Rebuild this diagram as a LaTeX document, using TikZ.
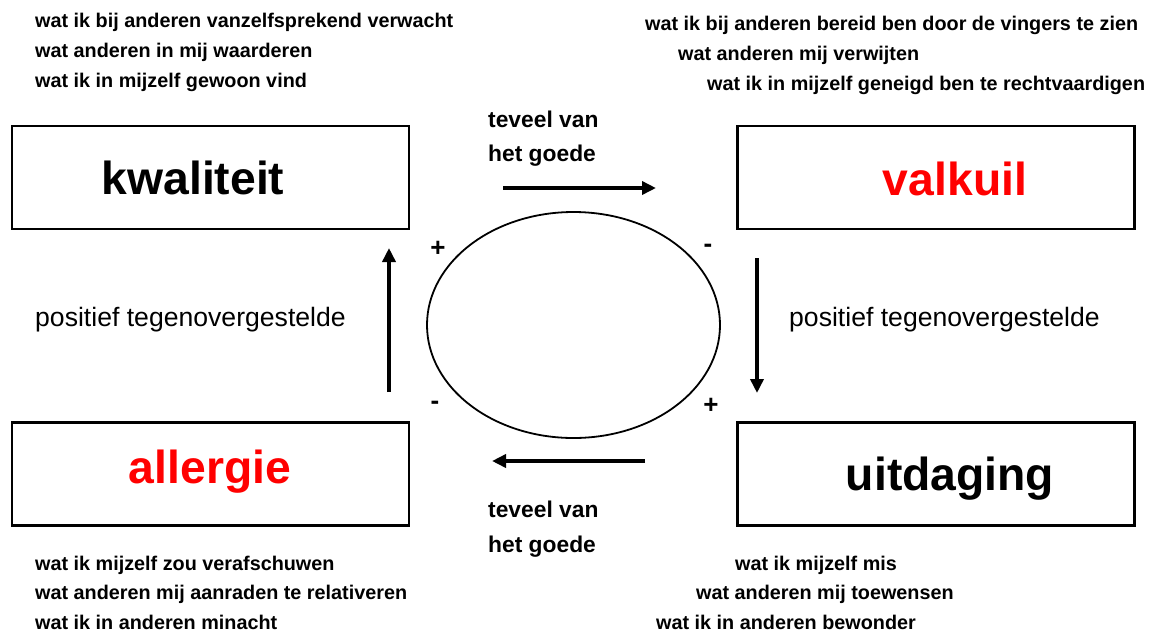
\documentclass[tikz,border=0pt]{standalone}
\usepackage{fontspec}
\setmainfont{Liberation Sans}
\usetikzlibrary{arrows.meta,shapes.geometric}
\definecolor{kred}{RGB}{255,0,0}
\tikzset{
  box/.style={draw, line width=2.2pt, minimum width=397pt, minimum height=103pt, inner sep=0pt},
  title/.style={font=\fontsize{46.3}{55}\selectfont\bfseries, anchor=base, inner sep=0pt},
  note/.style={font=\fontsize{19.8}{23}\selectfont\bfseries, anchor=base west, inner sep=0pt},
  mid/.style={font=\fontsize{22.8}{27}\selectfont\bfseries, anchor=base west, inner sep=0pt},
  opp/.style={font=\fontsize{26.6}{31}\selectfont, anchor=base west, inner sep=0pt},
  sign/.style={font=\fontsize{26}{30}\selectfont\bfseries, inner sep=0pt},
  bigarrow/.style={line width=3.6pt, -{Triangle[length=14pt,width=13pt]}},
}
\begin{document}
\begin{tikzpicture}[x=1pt,y=-1pt]
\useasboundingbox (0,0) rectangle (1163,633);
% boxes
\node[box] (kw) at (210.5,177.5) {};
\node[box] (vk) at (936,177.5) {};
\node[box] (al) at (210.5,474) {};
\node[box] (ui) at (936,474) {};
\node[title] (kwt) at (193,194) {kwaliteit};
\node[title, text=kred] (vkt) at (955,195) {valkuil};
\node[title, text=kred] (alt) at (210,483) {allergie};
\node[title] (uit) at (950,490) {uitdaging};
% ellipse
\node[draw, line width=1.8pt, ellipse, minimum width=293pt, minimum height=226pt, inner sep=0pt] (ell) at (573.5,325) {};
% arrows
\coordinate (a1s) at (503,188); \coordinate (a1e) at (656,188);
\coordinate (a2s) at (757,258); \coordinate (a2e) at (757,393);
\coordinate (a3s) at (645,461); \coordinate (a3e) at (492,461);
\coordinate (a4s) at (389,392); \coordinate (a4e) at (389,248);
\draw[bigarrow] (a1s) -- (a1e);
\draw[bigarrow] (a2s) -- (a2e);
\draw[bigarrow] (a3s) -- (a3e);
\draw[bigarrow] (a4s) -- (a4e);
% middle labels
\node[mid] (t1) at (488,127) {teveel van};
\node[mid] (t2) at (488,161) {het goede};
\node[mid] (t3) at (488,517) {teveel van};
\node[mid] (t4) at (488,552) {het goede};
\node[opp] (p1) at (35,326) {positief tegenovergestelde};
\node[opp] (p2) at (789,326) {positief tegenovergestelde};
% signs
\node[sign] (s1) at (438,249) {+};
\node[sign] (s2) at (708,248) {-};
\node[sign] (s3) at (435,405) {-};
\node[sign] (s4) at (711,406) {+};
% corner notes
\node[note] (n1) at (35,27) {wat ik bij anderen vanzelfsprekend verwacht};
\node[note] (n2) at (35,57) {wat anderen in mij waarderen};
\node[note] (n3) at (35,87) {wat ik in mijzelf gewoon vind};
\node[note] (n4) at (645,30) {wat ik bij anderen bereid ben door de vingers te zien};
\node[note] (n5) at (678,60) {wat anderen mij verwijten};
\node[note] (n6) at (707,90) {wat ik in mijzelf geneigd ben te rechtvaardigen};
\node[note] (n7) at (35,570) {wat ik mijzelf zou verafschuwen};
\node[note] (n8) at (35,599) {wat anderen mij aanraden te relativeren};
\node[note] (n9) at (35,629) {wat ik in anderen minacht};
\node[note] (n10) at (735,570) {wat ik mijzelf mis};
\node[note] (n11) at (696,599) {wat anderen mij toewensen};
\node[note] (n12) at (656,629) {wat ik in anderen bewonder};
\end{tikzpicture}
\end{document}
